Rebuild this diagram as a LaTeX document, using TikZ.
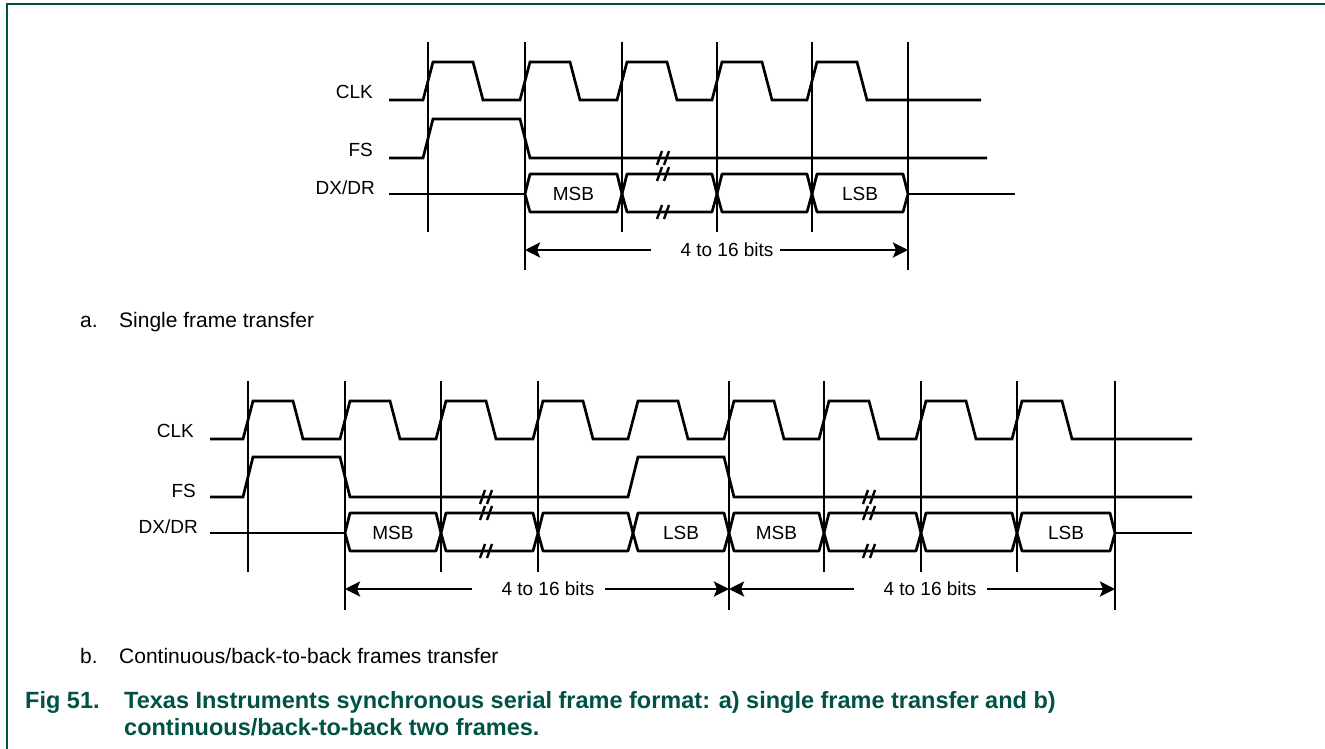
\documentclass[tikz,border=0pt]{standalone}
\usepackage{fontspec}
\setmainfont{Liberation Sans}
\usetikzlibrary{arrows.meta}
\definecolor{figgreen}{RGB}{0,82,68}
\tikzset{
  sig/.style={line width=2.7pt},
  bus/.style={line width=2.7pt, line join=round},
  brk/.style={line width=2.4pt},
  lbl/.style={font=\fontsize{19}{22}\selectfont, inner sep=0pt},
  siglbl/.style={lbl, anchor=base east},
  heading/.style={font=\fontsize{21}{25}\selectfont, anchor=base west, inner sep=0pt},
  figcap/.style={font=\fontsize{23.5}{28}\selectfont\bfseries, text=figgreen, anchor=base west, inner sep=0pt}
}
% break mark on a line: x, y
\newcommand{\brkmark}[2]{%
  \draw[brk] ({#1-6},{#2+7}) -- ({#1-1},{#2-7}) ({#1+1},{#2+7}) -- ({#1+6},{#2-7});}
\begin{document}
\begin{tikzpicture}[x=1pt,y=-1pt,>={Stealth[length=15pt,width=15pt,inset=3pt]}]
  \useasboundingbox (0,0) rectangle (1325,749);
  \draw[figgreen, line width=2pt] (7,749) -- (7,4) -- (1325,4);
  % a. single frame
  \foreach \v in {428,622,717,812} \draw[sig] (\v,42) -- (\v,232);
  \foreach \v in {525,908} \draw[sig] (\v,42) -- (\v,270);
  \draw[sig] (389,100) foreach \v in {428,525,622,717,812}
    { -- (\v-5,100) -- (\v+5,62) -- (\v+45,62) -- (\v+55,100) } -- (981,100);
  \draw[sig] (389,158) -- (423,158) -- (433,119) -- (520,119) -- (530,158) -- (987,158);
  \draw[sig] (389,194) -- (525,194);
  \foreach \a/\b in {525/622,622/717,717/812,812/908}
    \draw[bus] (\a,194) -- (\a+5,174) -- (\b-5,174) -- (\b,194) -- (\b-5,212) -- (\a+5,212) -- cycle;
  \draw[sig] (908,194) -- (1015,194);
  \brkmark{663}{158}
  \brkmark{663}{174}
  \brkmark{663}{212}
  \node[siglbl] (clkA) at (373,99) {CLK};
  \node[siglbl] (fsA) at (373,157) {FS};
  \node[siglbl] (dxA) at (375,194) {DX/DR};
  \node[lbl] (msbA) at (573.5,194) {MSB};
  \node[lbl] (lsbA) at (860,194) {LSB};
  \node[lbl] (bitsA) at (727,250) {4 to 16 bits};
  \coordinate (bitsAl) at (651,250);
  \coordinate (bitsAr) at (780,250);
  \coordinate (endA1) at (525,250);
  \coordinate (endA2) at (908,250);
  \draw[sig,->] (bitsAl) -- (endA1);
  \draw[sig,->] (bitsAr) -- (endA2);
  \node[heading] (capA) at (80,327) {a.};
  \node[heading] (capAtxt) at (119,327) {Single frame transfer};
  % b. back-to-back frames
  \foreach \v in {248,441,538,824,921,1017} \draw[sig] (\v,381) -- (\v,572);
  \foreach \v in {345,729,1115} \draw[sig] (\v,381) -- (\v,610);
  \draw[sig] (210,439) foreach \v in {248,345,441,538,633,729,824,921,1017}
    { -- (\v-5,439) -- (\v+5,401) -- (\v+45,401) -- (\v+55,439) } -- (1192,439);
  \draw[sig] (210,497) -- (243,497) -- (253,457) -- (340,457) -- (350,497)
    -- (628,497) -- (638,457) -- (724,457) -- (734,497) -- (1192,497);
  \draw[sig] (210,533) -- (345,533);
  \foreach \a/\b in {345/441,441/538,538/633,633/729,729/824,824/921,921/1017,1017/1115}
    \draw[bus] (\a,533) -- (\a+5,513) -- (\b-5,513) -- (\b,533) -- (\b-5,551) -- (\a+5,551) -- cycle;
  \draw[sig] (1115,533) -- (1192,533);
  \brkmark{486}{497}
  \brkmark{486}{513}
  \brkmark{486}{551}
  \brkmark{869}{497}
  \brkmark{869}{513}
  \brkmark{869}{551}
  \node[siglbl] (clkB) at (194,437) {CLK};
  \node[siglbl] (fsB) at (196,497) {FS};
  \node[siglbl] (dxB) at (198,533) {DX/DR};
  \node[lbl] (msbB1) at (393,533) {MSB};
  \node[lbl] (lsbB1) at (681,533) {LSB};
  \node[lbl] (msbB2) at (776.5,533) {MSB};
  \node[lbl] (lsbB2) at (1066,533) {LSB};
  \node[lbl] (bitsB1) at (548,589) {4 to 16 bits};
  \node[lbl] (bitsB2) at (930,589) {4 to 16 bits};
  \coordinate (bitsB1l) at (472,589);
  \coordinate (bitsB1r) at (605,589);
  \coordinate (bitsB2l) at (854,589);
  \coordinate (bitsB2r) at (987,589);
  \coordinate (endB1) at (345,589);
  \coordinate (endB2) at (729,589);
  \coordinate (endB3) at (1115,589);
  \draw[sig,->] (bitsB1l) -- (endB1);
  \draw[sig,->] (bitsB1r) -- (endB2);
  \draw[sig,->] (bitsB2l) -- (endB2);
  \draw[sig,->] (bitsB2r) -- (endB3);
  \node[heading] (capB) at (80,663) {b.};
  \node[heading] (capBtxt) at (119,663) {Continuous/back-to-back frames transfer};
  % figure caption
  \node[figcap] (figno) at (25,708) {Fig 51.};
  \node[figcap] (figline1) at (124,708) {Texas Instruments synchronous serial frame format: a) single frame transfer and b)};
  \node[figcap] (figline2) at (124,735) {continuous/back-to-back two frames.};
\end{tikzpicture}
\end{document}
